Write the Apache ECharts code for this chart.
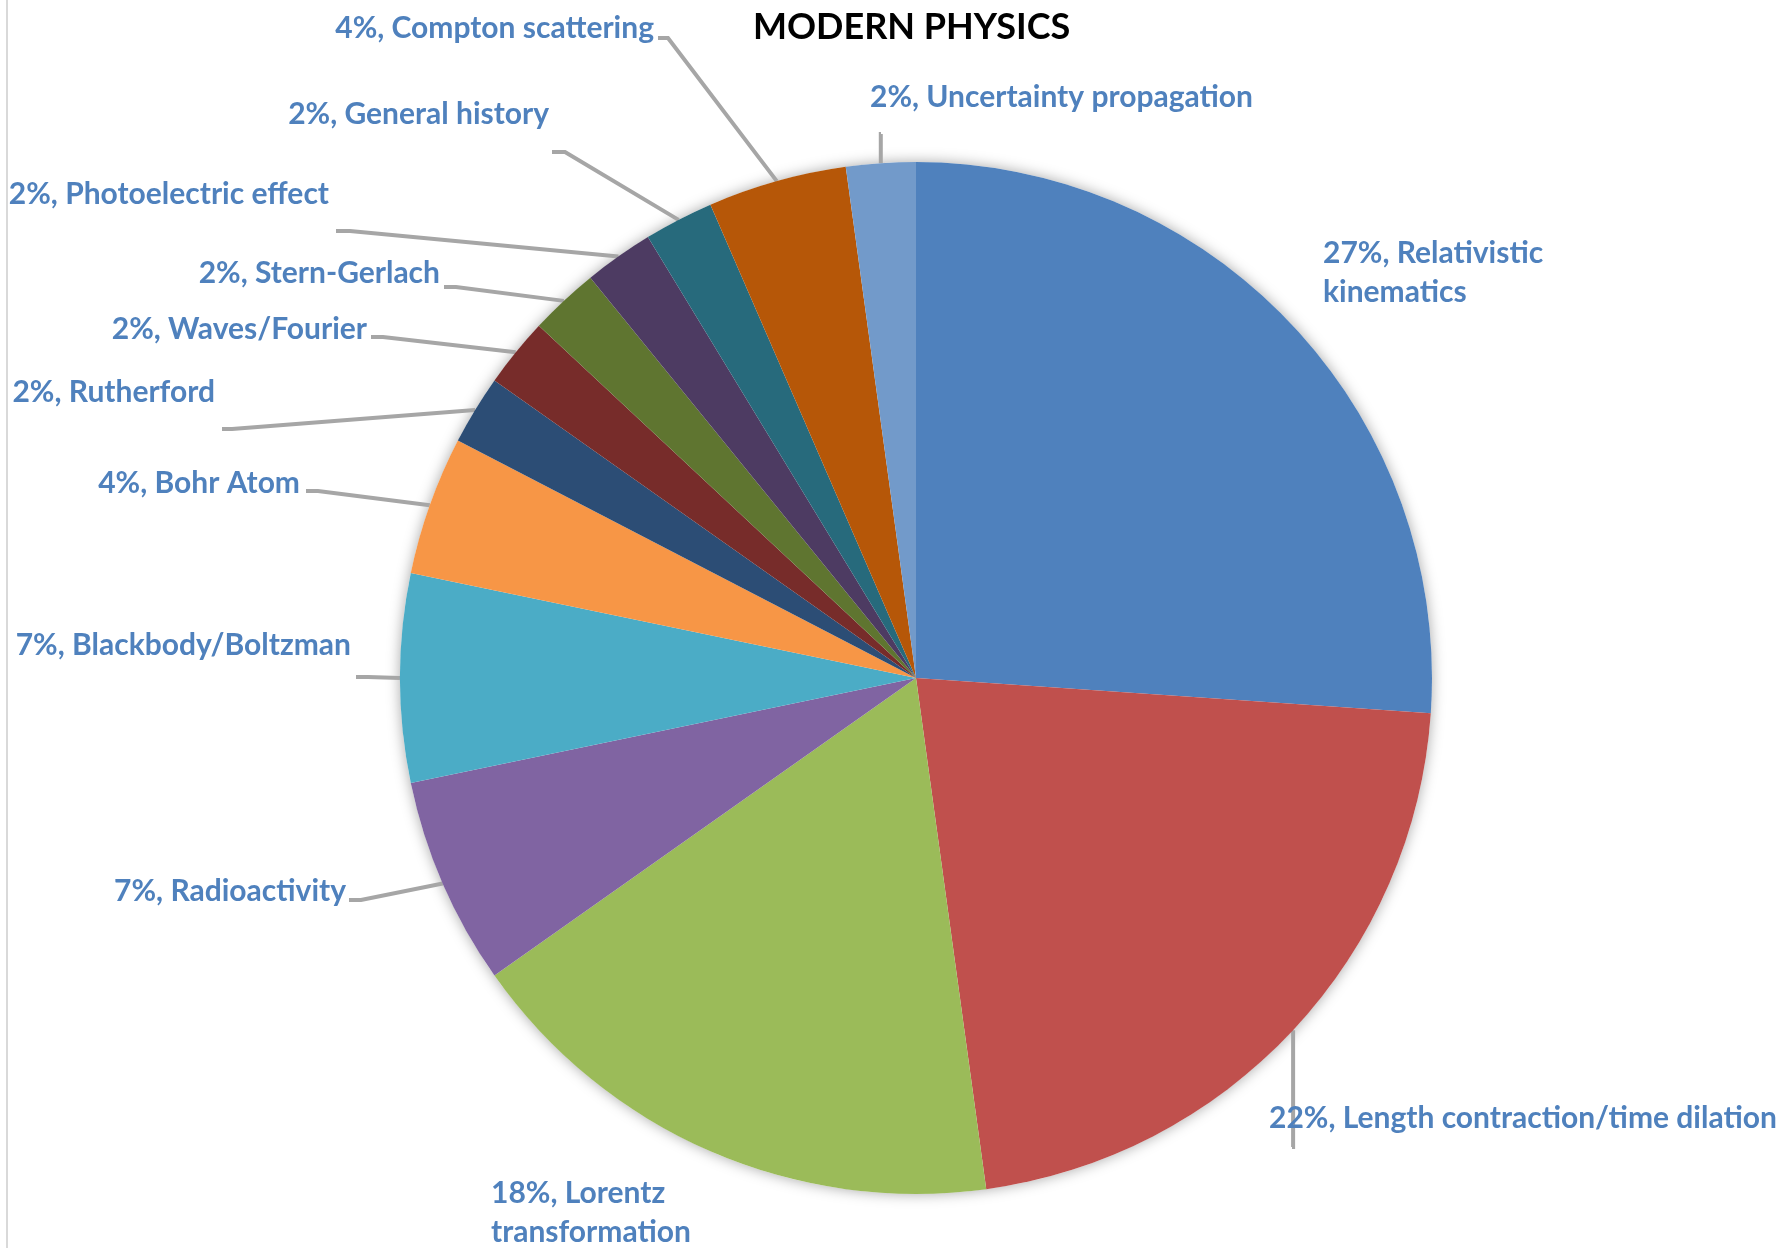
<!DOCTYPE html>
<html>
<head>
<meta charset="utf-8">
<title>Modern Physics</title>
<script src="https://cdn.jsdelivr.net/npm/echarts@6/dist/echarts.min.js"></script>
<style>
  html, body { margin: 0; padding: 0; background: #fff; }
  #chart { width: 1777px; height: 1248px; }
</style>
</head>
<body>
<div id="chart"></div>
<script>
// clockwise from 12 o'clock
var topics = ['Relativistic kinematics', 'Length contraction/time dilation', 'Lorentz transformation',
  'Radioactivity', 'Blackbody/Boltzman', 'Bohr Atom', 'Rutherford', 'Waves/Fourier',
  'Stern-Gerlach', 'Photoelectric effect', 'General history', 'Compton scattering',
  'Uncertainty propagation'];
var counts = [12, 10, 8, 3, 3, 2, 1, 1, 1, 1, 1, 2, 1];
// percentages as printed on the sheet's labels
var pctLabels = [27, 22, 18, 7, 7, 4, 2, 2, 2, 2, 2, 4, 2];
var colors = ['#4F81BD', '#C0504D', '#9BBB59', '#8064A2', '#4BACC6', '#F79646',
  '#2C4D75', '#772C2A', '#5F7530', '#4D3B62', '#276A7C', '#B65708', '#729ACA'];

// label placement like the excel sheet:
// x, y(middle), align, wrap width, leader line end (null = no line), elbow dx
var labelPlace = [
  [1323, 273, 'left', 270, null, 0],
  [1269, 1118, 'left', 0, [1292, 1147], 0],
  [491, 1213, 'left', 210, null, 0],
  [346, 891, 'right', 0, [349, 900], 12],
  [351, 645, 'right', 0, [356, 677], 12],
  [300, 483, 'right', 0, [306, 491], 12],
  [215, 392, 'right', 0, [222, 429], 10],
  [367, 329, 'right', 0, [371, 337], 12],
  [440, 273, 'right', 0, [444, 287], 12],
  [329, 194, 'right', 0, [336, 231], 14],
  [549, 114, 'right', 0, [552, 152], 13],
  [654, 28, 'right', 0, [658, 38], 10],
  [870, 97, 'left', 0, [881, 134], 0]
];

var pieData = topics.map(function(name, i){
  var item = {
    name: name,
    value: counts[i],
    itemStyle: { color: colors[i] }
  };
  if (labelPlace[i][3]) {
    item.label = { width: labelPlace[i][3], overflow: 'break' };
  }
  if (!labelPlace[i][4]) {
    item.labelLine = { show: false };
  }
  return item;
});

var chart = echarts.init(document.getElementById('chart'));

chart.setOption({
  animation: false,
  title: {
    text: 'MODERN PHYSICS',
    left: 748,
    top: 4,
    textStyle: {
      fontFamily: 'Lato',
      fontWeight: 'bold',
      fontSize: 36,
      color: '#000'
    }
  },
  graphic: [{
    type: 'line',
    shape: { x1: 7, y1: 0, x2: 7, y2: 1248 },
    style: { stroke: '#D9D9D9', lineWidth: 2 },
    silent: true
  }],
  series: [
    {
      // just the soft shadow under the pie
      type: 'pie',
      silent: true,
      z: 1,
      center: [916, 678],
      radius: 516,
      label: { show: false },
      labelLine: { show: false },
      itemStyle: {
        color: '#ffffff',
        shadowBlur: 14,
        shadowColor: 'rgba(0,0,0,0.35)'
      },
      data: [1]
    },
    {
      type: 'pie',
      z: 2,
      center: [916, 678],
      radius: 516,
      startAngle: 90,
      clockwise: true,
      avoidLabelOverlap: false,
      itemStyle: { borderWidth: 0 },
      label: {
        show: true,
        position: 'outside',
        alignTo: 'none',
        fontFamily: 'Lato',
        fontWeight: 'bold',
        fontSize: 30,
        lineHeight: 39,
        color: '#4F81BD',
        formatter: function(p){
          return pctLabels[p.dataIndex] + '%, ' + p.name;
        }
      },
      labelLine: {
        show: true,
        length: 20,
        length2: 12,
        lineStyle: { color: '#A6A6A6', width: 4 }
      },
      labelLayout: function(params){
        var pl = labelPlace[params.dataIndex];
        var out = {
          x: pl[0],
          y: pl[1],
          align: pl[2],
          verticalAlign: 'middle'
        };
        var end = pl[4];
        if (end && params.labelLinePoints) {
          var start = params.labelLinePoints[0];
          var elbow = pl[5] ? [end[0] + pl[5], end[1]] : [start[0], end[1]];
          out.labelLinePoints = [start, elbow, end];
        }
        return out;
      },
      data: pieData
    }
  ]
});
</script>
</body>
</html>
